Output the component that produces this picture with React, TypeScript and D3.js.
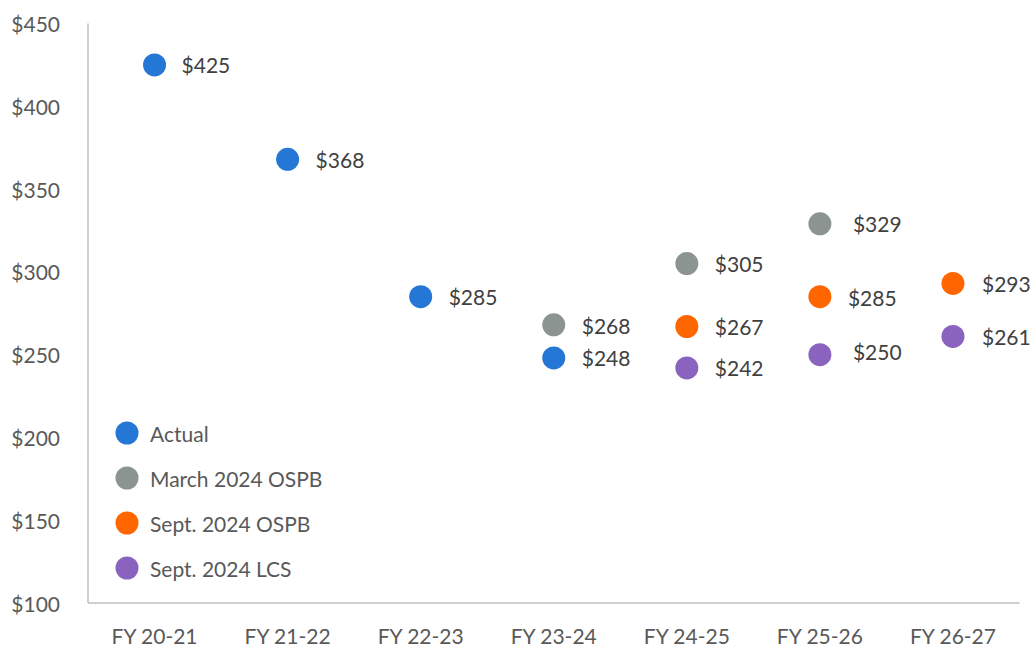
import React from "react";
import * as d3 from "d3";

const categories = ["FY 20-21", "FY 21-22", "FY 22-23", "FY 23-24", "FY 24-25", "FY 25-26", "FY 26-27"];
const yTicks = [100, 150, 200, 250, 300, 350, 400, 450];

const seriesNames = ["Actual", "March 2024 OSPB", "Sept. 2024 OSPB", "Sept. 2024 LCS"];
const seriesColors = ["#2477D4", "#8C9491", "#FF6600", "#8A63BE"];

const actual: (number | null)[] = [425, 368, 285, 248, null, null, null];
const march2024OSPB: (number | null)[] = [null, null, null, 268, 305, 329, null];
const sept2024OSPB: (number | null)[] = [null, null, null, null, 267, 285, 293];
const sept2024LCS: (number | null)[] = [null, null, null, null, 242, 250, 261];

const seriesValues = [actual, march2024OSPB, sept2024OSPB, sept2024LCS];

// label offsets (px) per series per category
const labelDx: number[][] = [
  [27, 28, 28, 28, 28, 28, 28],
  [28, 28, 28, 28, 28, 33, 28],
  [28, 28, 28, 28, 28, 28, 29],
  [28, 28, 28, 28, 28, 33, 29],
];
const labelDy: number[][] = [
  [0, 0, 0, 0, 0, 0, 0],
  [0, 0, 0, 1, 0, 0, 0],
  [0, 0, 0, 0, 0, 1, 0],
  [0, 0, 0, 0, 0, -3, 0],
];

export default function App() {
  const W = 1032, H = 647;
  const left = 88, right = 1019.5, top = 23.5, bottom = 603;
  const x = d3.scaleBand<string>().domain(categories).range([left, right]);
  const y = d3.scaleLinear().domain([100, 450]).range([bottom, top]);
  const cx = (c: string) => (x(c) as number) + x.bandwidth() / 2;
  const font = "Lato, 'Open Sans', sans-serif";
  const textColor = "#595959";
  const fs = 21;

  return (
    <svg width={W} height={H} style={{ position: "absolute", left: 0, top: 0, background: "#fff" }} fontFamily={font}>
      <line x1={left} x2={left} y1={top} y2={bottom} stroke="#BFBFBF" strokeWidth={1.5} />
      <line x1={left} x2={right} y1={bottom} y2={bottom} stroke="#BFBFBF" strokeWidth={1.5} />
      {yTicks.map((t) => (
        <text key={t} x={60} y={y(t)} textAnchor="end" dominantBaseline="central" fontSize={fs} fill={textColor}>
          {d3.format("$")(t)}
        </text>
      ))}
      {categories.map((c) => (
        <text key={c} x={cx(c)} y={635} textAnchor="middle" dominantBaseline="central" fontSize={fs} fill={textColor}>
          {c}
        </text>
      ))}
      {seriesValues.map((vals, si) =>
        vals.map((v, ci) =>
          v == null ? null : (
            <g key={`${si}-${ci}`}>
              <circle cx={cx(categories[ci])} cy={y(v)} r={11.5} fill={seriesColors[si]} />
              <text
                x={cx(categories[ci]) + labelDx[si][ci]}
                y={y(v) + labelDy[si][ci]}
                dominantBaseline="central"
                fontSize={fs}
                fill="#404040"
              >
                {"$" + v}
              </text>
            </g>
          )
        )
      )}
      {seriesNames.map((n, i) => (
        <g key={n}>
          <circle cx={127} cy={433 + i * 45} r={11.5} fill={seriesColors[i]} />
          <text x={150} y={433 + i * 45} dominantBaseline="central" fontSize={fs} fill={textColor}>
            {n}
          </text>
        </g>
      ))}
    </svg>
  );
}
